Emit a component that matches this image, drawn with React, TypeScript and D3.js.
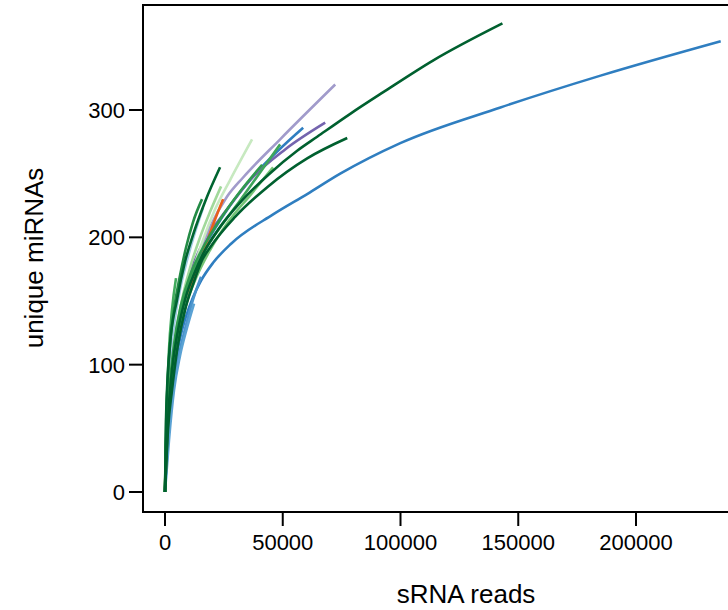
import React from "react";
import * as d3 from "d3";

// ---- data: rarefaction curves [sRNA reads, unique miRNAs] ----
const blueLong: [number, number][] = [[0,0],[425,28],[1100,52],[2100,72],[3800,95],[5527,113],[6803,124],[8929,138],[11905,153],[15306,166],[20408,180],[28061,195],[45918,218],[60374,234],[74405,250],[99915,274],[142432,302],[184949,327],[235969,354]];
const blueMid: [number, number][] = [[0,0],[1701,64],[4252,108],[7228,141],[10629,167],[14881,186],[21259,207],[27636,225],[36139,245],[58673,286]];
const blueShortA: [number, number][] = [[0,0],[1276,41],[3401,80],[5952,108],[8929,131],[11905,151],[15306,169]];
const blueShortB: [number, number][] = [[0,0],[1701,41],[3827,80],[6378,107],[9354,129],[12330,148]];
const lightBlue: [number, number][] = [[0,0],[425,41],[1701,92],[3827,131],[6378,159],[9354,182],[12755,204],[16156,223]];
const purple: [number, number][] = [[0,0],[850,41],[3401,90],[6378,135],[9354,163],[13605,186],[19133,204],[25510,220],[36139,245],[51020,269],[68027,290]];
const lightPurple: [number, number][] = [[0,0],[425,29],[1701,64],[4252,108],[7228,139],[10629,165],[14881,189],[19133,208],[26361,232],[33163,247],[48895,277],[72279,320]];
const orange: [number, number][] = [[0,0],[425,33],[2551,80],[5527,119],[8929,147],[12755,170],[17007,192],[20833,212],[24660,230]];
const brown: [number, number][] = [[0,0],[850,49],[2551,88],[4677,114],[7228,134]];
const lightGreenA: [number, number][] = [[0,0],[850,41],[2976,88],[5527,123],[8503,151],[11905,174],[16156,198],[21259,222],[27636,245],[36990,277]];
const lightGreenB: [number, number][] = [[0,0],[425,37],[1701,76],[4252,119],[7228,151],[10629,176],[14881,200],[19133,220],[23810,240]];
const greenLight: [number, number][] = [[0,0],[425,37],[2551,80],[5527,119],[8929,147],[13180,168],[19133,190],[26786,212],[36139,233],[45918,255]];
const greenMid: [number, number][] = [[0,0],[425,33],[2126,76],[4677,116],[7653,147],[11480,170],[17007,190],[24235,210],[31888,229],[40391,251],[48895,273]];
const greenMidB: [number, number][] = [[0,0],[425,37],[1701,76],[3827,116],[6803,147],[10629,170],[16156,192],[23384,214],[31888,236],[41241,257]];
const greenShort: [number, number][] = [[0,0],[425,37],[850,72],[1701,112],[2976,143],[4677,168]];
const greenDarkShort: [number, number][] = [[0,0],[425,49],[1701,104],[3827,143],[6378,170],[8929,192],[11905,212],[15731,230]];
const darkGreenFast: [number, number][] = [[0,0],[425,57],[2126,116],[5102,151],[8503,181],[11905,202],[17007,228],[23384,255]];
const darkGreenMid: [number, number][] = [[0,0],[1276,49],[2976,80],[5527,116],[8503,143],[11905,163],[15731,182],[19133,192],[29762,216],[43793,240],[60374,262],[77381,278]];
const darkGreenLong: [number, number][] = [[0,0],[1276,57],[2976,96],[5527,127],[8503,151],[12755,173],[17007,190],[22534,206],[32738,229],[43793,249],[56122,268],[64626,279],[78656,297],[92687,314],[113946,339],[143282,368]];

// drawing order (later on top)
const seriesList = [blueLong, blueMid, blueShortA, blueShortB, lightBlue, purple, lightPurple, orange, brown, lightGreenA, lightGreenB, greenLight, greenMid, greenMidB, greenShort, greenDarkShort, darkGreenMid, darkGreenFast, darkGreenLong];
const seriesColors = ["#2f7ec0", "#2f7ec0", "#4a93cc", "#5aa2d4", "#9ecae1", "#7464ae", "#a19bcb", "#e8601c", "#a63603", "#c7e9c0", "#a1d99b", "#74c476", "#3ea55a", "#2f9a4e", "#41ab5d", "#238b45", "#00602f", "#006430", "#00602f"];

const xTicks = [0, 50000, 100000, 150000, 200000];
const yTicks = [0, 100, 200, 300];
const xTitle = "sRNA reads";
const yTitle = "unique miRNAs";

export default function App() {
  const W = 728, H = 610;
  const x = d3.scaleLinear().domain([0, 200000]).range([165, 636]);
  const y = d3.scaleLinear().domain([0, 300]).range([492, 110]);
  const line = d3.line<[number, number]>()
    .x(d => x(d[0]))
    .y(d => y(d[1]))
    .curve(d3.curveMonotoneX);
  const boxL = 143, boxT = 5, boxB = 512, boxR = 760;
  const font = "'Liberation Sans', Arial, Helvetica, sans-serif";
  return (
    <svg width={W} height={H} style={{ position: "absolute", left: 0, top: 0, background: "#fff" }} fontFamily={font}>
      <rect x={0} y={0} width={W} height={H} fill="#fff" />
      {seriesList.map((s, i) => (
        <path key={i} d={line(s) || ""} fill="none" stroke={seriesColors[i]} strokeWidth={2.6} strokeLinecap="butt" strokeLinejoin="round" />
      ))}
      <path d={`M${boxR},${boxT}H${boxL}V${boxB}H${boxR}`} fill="none" stroke="#000" strokeWidth={2} />
      {yTicks.map(t => (
        <g key={"y" + t}>
          <line x1={129} x2={boxL} y1={y(t)} y2={y(t)} stroke="#000" strokeWidth={2} />
          <text x={125} y={y(t)} dy="0.36em" textAnchor="end" fontSize={22} fill="#000">{t}</text>
        </g>
      ))}
      {xTicks.map(t => (
        <g key={"x" + t}>
          <line x1={x(t)} x2={x(t)} y1={boxB} y2={boxB + 14} stroke="#000" strokeWidth={2} />
          <text x={x(t)} y={550} textAnchor="middle" fontSize={22} fill="#000">{t}</text>
        </g>
      ))}
      <text x={466} y={603} textAnchor="middle" fontSize={26} fill="#000">{xTitle}</text>
      <text transform={`translate(43,258) rotate(-90)`} textAnchor="middle" fontSize={26} fill="#000">{yTitle}</text>
    </svg>
  );
}
